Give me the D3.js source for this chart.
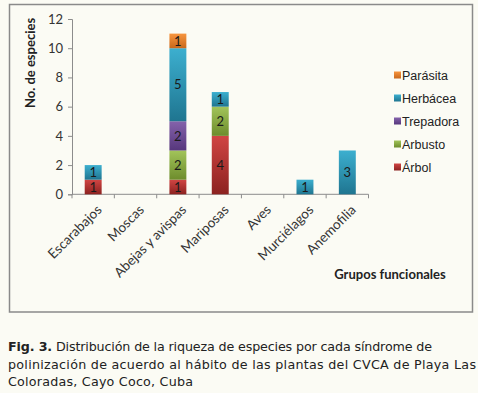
<!DOCTYPE html>
<html>
<head>
<meta charset="utf-8">
<script src="https://cdn.jsdelivr.net/npm/d3@7"></script>
<style>
  body { margin: 0; background: #fbfbf4; }
  svg { display: block; }
</style>
</head>
<body>
<div id="chart"></div>
<script>
var categories = ["Escarabajos", "Moscas", "Abejas y avispas", "Mariposas", "Aves", "Murciélagos", "Anemofilia"]
var arbol = [1, 0, 1, 4, 0, 0, 0]
var arbusto = [0, 0, 2, 2, 0, 0, 0]
var trepadora = [0, 0, 2, 0, 0, 0, 0]
var herbacea = [1, 0, 5, 1, 0, 1, 3]
var parasita = [0, 0, 1, 0, 0, 0, 0]
var yTicks = [0, 2, 4, 6, 8, 10, 12]

var series = [
  { key: "Árbol", values: arbol, top: "#d04543", bottom: "#8c2220" },
  { key: "Arbusto", values: arbusto, top: "#a2c45a", bottom: "#6d8c2c" },
  { key: "Trepadora", values: trepadora, top: "#8462ab", bottom: "#56377c" },
  { key: "Herbácea", values: herbacea, top: "#3cafcf", bottom: "#1f7590" },
  { key: "Parásita", values: parasita, top: "#f7953e", bottom: "#c8681c" }
]

var W = 478, H = 393
var chartFont = "Lato, 'Open Sans', sans-serif"

var svg = d3.select("#chart").append("svg")
  .attr("width", W)
  .attr("height", H)

svg.append("rect")
  .attr("x", 9.5).attr("y", 4.5)
  .attr("width", 463).attr("height", 307.5)
  .attr("fill", "#fbfbf4")
  .attr("stroke", "#8a8a8a")
  .attr("stroke-width", 1.5)

var defs = svg.append("defs")
series.forEach(function(s, i) {
  var g = defs.append("linearGradient")
    .attr("id", "grad" + i)
    .attr("x1", 0).attr("y1", 0).attr("x2", 0).attr("y2", 1)
  g.append("stop").attr("offset", "0%").attr("stop-color", s.top)
  g.append("stop").attr("offset", "100%").attr("stop-color", s.bottom)
})

var x = d3.scaleBand().domain(categories).range([72, 368.5]).paddingInner(0.6).paddingOuter(0.3)
var y = d3.scaleLinear().domain([0, 12]).range([194.3, 19])

// stack
var rows = categories.map(function(c, i) {
  var r = { cat: c }
  series.forEach(function(s) { r[s.key] = s.values[i] })
  return r
})
var stacked = d3.stack().keys(series.map(function(s) { return s.key }))(rows)

// axes
var axisColor = "#8c8c8c"
var yAxis = svg.append("g")
  .attr("transform", "translate(72,0)")
  .call(d3.axisLeft(y).tickValues(yTicks).tickSize(4).tickPadding(5))
yAxis.select(".domain").attr("stroke", axisColor)
yAxis.selectAll(".tick line").attr("stroke", axisColor)
yAxis.selectAll(".tick text")
  .attr("font-family", chartFont).attr("font-size", 13).attr("fill", "#333")

var xAxis = svg.append("g")
  .attr("transform", "translate(0,194.3)")
xAxis.append("line")
  .attr("x1", x.range()[0]).attr("x2", x.range()[1])
  .attr("stroke", axisColor)
var step = x.step()
d3.range(categories.length + 1).forEach(function(i) {
  var px = x.range()[0] + i * step
  xAxis.append("line")
    .attr("x1", px).attr("x2", px).attr("y1", 0).attr("y2", 4)
    .attr("stroke", axisColor)
})
xAxis.selectAll("text.cat")
  .data(categories)
  .enter().append("text")
  .attr("class", "cat")
  .attr("transform", function(d) {
    return "translate(" + (x(d) + x.bandwidth() / 2 + 6) + ",13) rotate(-45)"
  })
  .attr("text-anchor", "end")
  .attr("dy", "0.35em")
  .attr("font-family", chartFont).attr("font-size", 13.5).attr("fill", "#333")
  .text(function(d) { return d })

// bars
stacked.forEach(function(layer, i) {
  var g = svg.append("g")
  var segs = layer.filter(function(d) { return d[1] - d[0] > 0 })
  g.selectAll("rect")
    .data(segs)
    .enter().append("rect")
    .attr("x", function(d) { return x(d.data.cat) })
    .attr("width", x.bandwidth())
    .attr("y", function(d) { return y(d[1]) })
    .attr("height", function(d) { return y(d[0]) - y(d[1]) })
    .attr("fill", "url(#grad" + i + ")")
  g.selectAll("text")
    .data(segs)
    .enter().append("text")
    .attr("x", function(d) { return x(d.data.cat) + x.bandwidth() / 2 })
    .attr("y", function(d) { return (y(d[0]) + y(d[1])) / 2 })
    .attr("dy", "0.36em")
    .attr("text-anchor", "middle")
    .attr("font-family", chartFont).attr("font-size", 13).attr("fill", "#1a1a1a")
    .text(function(d) { return d[1] - d[0] })
})

// axis titles
svg.append("text")
  .attr("transform", "translate(35,63) rotate(-90)")
  .attr("text-anchor", "middle")
  .attr("font-family", chartFont).attr("font-size", 13).attr("font-weight", "bold").attr("fill", "#222")
  .text("No. de especies")

svg.append("text")
  .attr("x", 390).attr("y", 279)
  .attr("text-anchor", "middle")
  .attr("font-family", chartFont).attr("font-size", 13).attr("font-weight", "bold").attr("fill", "#222")
  .text("Grupos funcionales")

// legend
var legend = svg.append("g")
var legendItems = series.slice().reverse()
legendItems.forEach(function(s, i) {
  var idx = series.indexOf(s)
  var ly = 75 + i * 23
  legend.append("rect")
    .attr("x", 394).attr("y", ly - 3.5)
    .attr("width", 7).attr("height", 7)
    .attr("fill", "url(#grad" + idx + ")")
  legend.append("text")
    .attr("x", 402).attr("y", ly)
    .attr("dy", "0.36em")
    .attr("font-family", "'Liberation Sans', Arial, sans-serif").attr("font-size", 12.5).attr("fill", "#222")
    .text(s.key)
})

// caption
var captionLines = [
  { width: 424, parts: [["Fig. 3.", true], [" Distribución de la riqueza de especies por cada síndrome de", false]] },
  { width: 468, parts: [["polinización de acuerdo al hábito de las plantas del CVCA de Playa Las", false]] },
  { width: 185, parts: [["Coloradas, Cayo Coco, Cuba", false]] }
]
captionLines.forEach(function(line, i) {
  var t = svg.append("text")
    .attr("x", 8).attr("y", 351 + i * 17.5)
    .attr("textLength", line.width)
    .attr("lengthAdjust", "spacing")
    .attr("font-family", "'DejaVu Sans', Verdana, sans-serif").attr("font-size", 12.7).attr("fill", "#222")
  line.parts.forEach(function(part) {
    t.append("tspan")
      .attr("font-weight", part[1] ? "bold" : "normal")
      .text(part[0])
  })
})
</script>
</body>
</html>
